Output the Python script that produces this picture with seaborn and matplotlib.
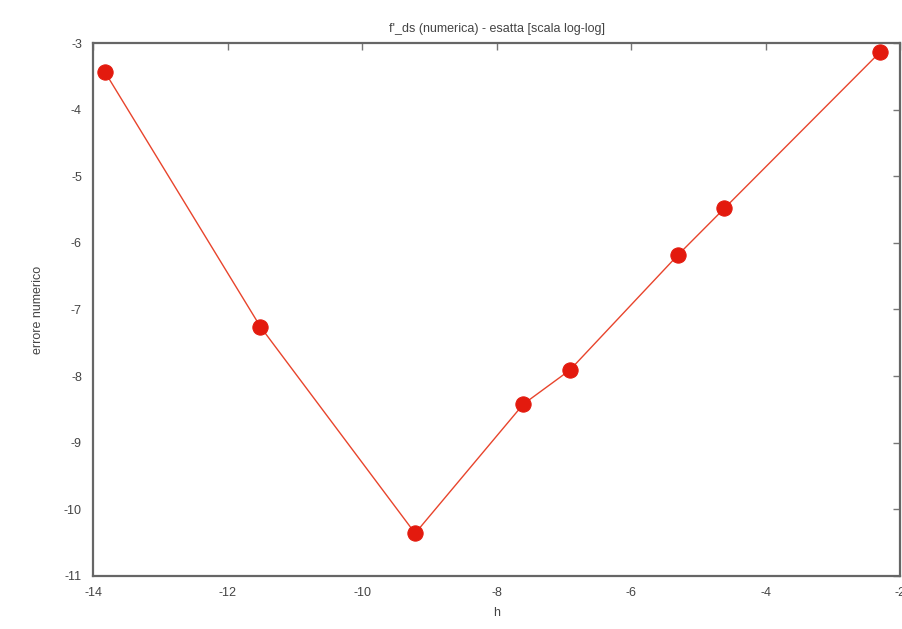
import matplotlib
matplotlib.use("Agg")
import matplotlib.pyplot as plt
import seaborn as sns
import pandas as pd

# log(h) and log(error)
log_h = [-13.82, -11.51, -9.21, -7.60, -6.91, -5.30, -4.61, -2.30]
log_err = [-3.44, -7.26, -10.36, -8.42, -7.91, -6.18, -5.48, -3.14]
x_ticks = [-14, -12, -10, -8, -6, -4, -2]
y_ticks = [-11, -10, -9, -8, -7, -6, -5, -4, -3]

df = pd.DataFrame({"h": log_h, "err": log_err})

sns.set_style("white")
plt.rcParams['font.family'] = ['Liberation Sans', 'DejaVu Sans']

fig = plt.figure(figsize=(9.03, 6.29), dpi=100)
ax = fig.add_axes([0.103, 0.0843, 0.8937, 0.8473])

sns.lineplot(data=df, x="h", y="err", ax=ax, color="#e8442c", linewidth=1.0,
             marker="o", markersize=11, markerfacecolor="#e31a0e",
             markeredgecolor="#e31a0e")

ax.set_xlim(-14, -2)
ax.set_ylim(-11, -3)
ax.set_xticks(x_ticks)
ax.set_yticks(y_ticks)
ax.set_xticklabels([str(t) for t in x_ticks])
ax.set_yticklabels([str(t) for t in y_ticks])
ax.tick_params(direction="in", length=5, width=1, color="#777777",
               labelsize=9, colors="#444444", top=True, right=True, pad=8)
for s in ax.spines.values():
    s.set_color("#666666")
    s.set_linewidth(1.6)

ax.set_xlabel("h", fontsize=9, color="#444444", labelpad=6)
ax.set_ylabel("errore numerico", fontsize=9, color="#444444", labelpad=14)
ax.set_title("f'_ds (numerica) - esatta [scala log-log]", fontsize=9,
             color="#444444", pad=8)

fig.savefig("out.png", dpi=100)
